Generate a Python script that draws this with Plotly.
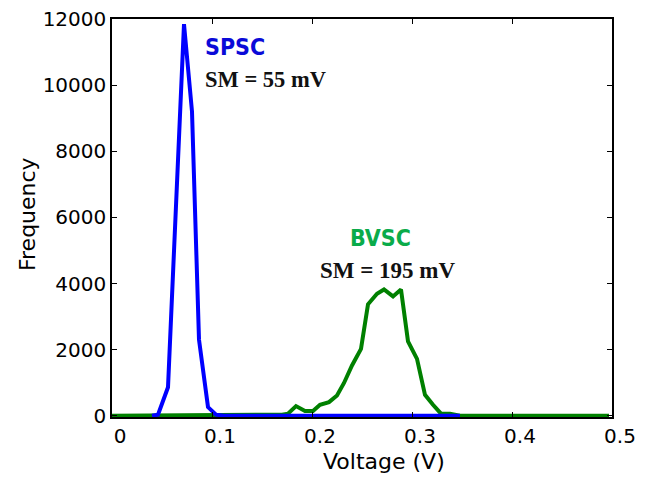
import plotly.graph_objects as go

# Data
BLUE_V = [0.040, 0.046, 0.056, 0.072, 0.080, 0.087, 0.096, 0.104, 0.112, 0.348]
BLUE_F = [0, 30, 860, 11850, 9200, 2300, 260, 30, 0, 0]

GREEN_V = [0.000, 0.162, 0.170, 0.176, 0.184, 0.193, 0.201, 0.208, 0.217, 0.225,
           0.232, 0.240, 0.249, 0.256, 0.265, 0.272, 0.281, 0.289, 0.296, 0.305,
           0.313, 0.321, 0.329, 0.338, 0.348, 0.497]
GREEN_F = [0, 10, 30, 60, 290, 140, 140, 330, 410, 610,
           990, 1520, 2020, 3370, 3690, 3820, 3610, 3820, 2250, 1720,
           630, 330, 60, 60, 0, 0]

X_TICKS = [0, 0.1, 0.2, 0.3, 0.4, 0.5]
X_TICKTEXT = ["0", "0.1", "0.2", "0.3", "0.4", "0.5"]
Y_TICKS = [0, 2000, 4000, 6000, 8000, 10000, 12000]
Y_TICKTEXT = ["0", "2000", "4000", "6000", "8000", "10000", "12000"]

SANS = "DejaVu Sans"
SANS_BOLD = "DejaVu Sans Condensed, DejaVu Sans"
SERIF = "Liberation Serif, Times New Roman, serif"

fig = go.Figure()
fig.add_trace(go.Scatter(x=GREEN_V, y=GREEN_F, mode="lines",
                         line=dict(color="#008000", width=4), showlegend=False))
fig.add_trace(go.Scatter(x=BLUE_V, y=BLUE_F, mode="lines",
                         line=dict(color="#0000ff", width=4), showlegend=False))

annos = [
    dict(x=0.091, y=11150, text="<b>SPSC</b>", xanchor="left", yanchor="middle",
         font=dict(family=SANS_BOLD, size=23, color="#0a0ad8")),
    dict(x=0.091, y=10160, text="<b>SM = 55 mV</b>", xanchor="left", yanchor="middle",
         font=dict(family=SERIF, size=22.5, color="#111111")),
    dict(x=0.268, y=5390, text="<b>BVSC</b>", xanchor="center", yanchor="middle",
         font=dict(family=SANS_BOLD, size=23, color="#0aab4a")),
    dict(x=0.276, y=4400, text="<b>SM = 195 mV</b>", xanchor="center", yanchor="middle",
         font=dict(family=SERIF, size=23, color="#111111")),
]
for a in annos:
    fig.add_annotation(xref="x", yref="y", showarrow=False, **a)

fig.add_annotation(xref="paper", yref="paper", x=0.544, y=-0.112, text="Voltage (V)",
                   showarrow=False, xanchor="center", yanchor="middle",
                   font=dict(family=SANS, size=22, color="black"))
fig.add_annotation(xref="paper", yref="paper", x=-0.17, y=0.51, text="Frequency",
                   showarrow=False, xanchor="center", yanchor="middle", textangle=-90,
                   font=dict(family=SANS, size=22, color="black"))

axis_common = dict(showgrid=False, zeroline=False, showline=True, linecolor="black",
                   linewidth=1.5, mirror="allticks", ticks="inside", ticklen=5,
                   tickwidth=1, tickcolor="black", automargin=False,
                   ticklabeloverflow="allow",
                   tickfont=dict(family=SANS, size=20, color="black"))

fig.update_xaxes(range=[0, 0.5], tickvals=X_TICKS, ticktext=X_TICKTEXT,
                 ticklabelshift=8, **axis_common)
fig.update_yaxes(range=[-40, 12005], tickvals=Y_TICKS, ticktext=Y_TICKTEXT,
                 **axis_common)

# the page body adds an 8px offset; margins compensate so the plot area sits
# at about x 112..612, y 19..417 in the window (top label kept inside the page)
fig.update_layout(width=668, height=481,
                  margin=dict(l=104, r=64, t=11, b=72),
                  plot_bgcolor="white", paper_bgcolor="white")

fig.write_html("out.html")
